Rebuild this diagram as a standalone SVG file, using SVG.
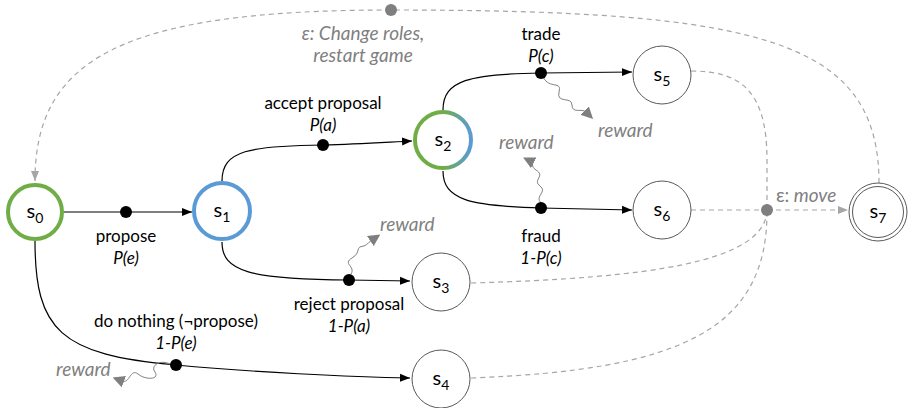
<svg xmlns="http://www.w3.org/2000/svg" width="913" height="408" viewBox="0 0 913 408">
  <defs>
    <linearGradient id="gradS2" x1="0" y1="0" x2="1" y2="0">
      <stop offset="0" stop-color="#70AD47"/>
      <stop offset="0.5" stop-color="#70AD47"/>
      <stop offset="1" stop-color="#5B9BD5"/>
    </linearGradient>
    <marker id="arrow" viewBox="0 0 10 10" refX="10" refY="5" markerWidth="10" markerHeight="10" markerUnits="userSpaceOnUse" orient="auto">
      <path d="M0,1 L10,5 L0,9 Z" fill="#000"/>
    </marker>
    <marker id="arrowGray" viewBox="0 0 10 10" refX="10" refY="5" markerWidth="10" markerHeight="10" markerUnits="userSpaceOnUse" orient="auto">
      <path d="M0,1 L10,5 L0,9 Z" fill="#A6A6A6"/>
    </marker>
    <marker id="arrowReward" viewBox="0 0 12 12" refX="2" refY="6" markerWidth="12" markerHeight="12" markerUnits="userSpaceOnUse" orient="auto">
      <path d="M0,0 L12,6 L0,12 Z" fill="#7F7F7F"/>
    </marker>
  </defs>
  <style>
    text { font-family: Lato, "Liberation Sans", sans-serif; fill: #000; }
    .lbl { font-size: 17px; text-anchor: middle; }
    .prob { font-size: 17px; text-anchor: middle; font-style: italic; }
    .gray { fill: #7F7F7F; font-style: italic; font-size: 19px; }
    .name { font-size: 20px; text-anchor: middle; }
    .sub { font-size: 14px; }
    .state { fill: #fff; stroke: #595959; stroke-width: 1; }
    .edge { fill: none; stroke: #000; stroke-width: 1.2; marker-end: url(#arrow); }
    .dash { fill: none; stroke: #A6A6A6; stroke-width: 1.2; stroke-dasharray: 5 4; }
    .wave { fill: none; stroke: #7F7F7F; stroke-width: 1; marker-end: url(#arrowReward); }
    .dot { fill: #000; }
    .gdot { fill: #7F7F7F; }
  </style>

  <!-- transitions -->
  <g id="connectors">
    <!-- epsilon transitions (dashed) -->
    <path class="dash" d="M879,183 C879,40 760,10 391,10 C120,10 35,60 35,181" marker-end="url(#arrowGray)"/>
    <path class="dash" d="M691,71 C740,71 767,90 767,160 L767,210"/>
    <path class="dash" d="M691,210 L767,210"/>
    <path class="dash" d="M471,283 C650,278 762,262 767,212"/>
    <path class="dash" d="M471,378 C680,370 767,330 767,212"/>
    <path class="dash" d="M767,210 L848,210" marker-end="url(#arrowGray)"/>

    <!-- action transitions -->
    <path class="edge" d="M64,212 L192,212"/>
    <path class="edge" d="M222,181 C222,150 250,146 323,145 C360,144 390,142 412,141"/>
    <path class="edge" d="M222,242 C222,272 250,279 349,280 L410,281"/>
    <path class="edge" d="M443,110 C443,80 470,74 541,73 L632,72"/>
    <path class="edge" d="M443,171 C443,200 470,206 541,208 L632,210"/>
    <path class="edge" d="M35,241 C35,330 60,355 176,365 C250,372 350,377 410,378"/>

    <!-- reward emissions -->
    <path class="wave" d="M543,77 C550,90 562,80 559,92 C556,104 572,96 572,105 C572,114 582,108 586,112"/>
    <path class="wave" d="M541,203 C534,196 548,192 540,186 C532,180 546,176 536,170 C530,166 534,163 532,162"/>
    <path class="wave" d="M351,274 C356,266 342,264 352,258 C362,252 354,247 364,246 C368,244 369,242 372,240"/>
    <path class="wave" d="M172,365 C160,358 150,366 155,372 C160,380 145,380 138,374 C130,368 130,384 122,381"/>

    <!-- choice points -->
    <circle class="dot" cx="126" cy="212" r="6"/>
    <circle class="dot" cx="323" cy="145" r="6"/>
    <circle class="dot" cx="349" cy="280" r="6"/>
    <circle class="dot" cx="541" cy="73" r="6"/>
    <circle class="dot" cx="541" cy="208" r="6"/>
    <circle class="dot" cx="176" cy="365" r="6"/>
    <circle class="gdot" cx="391" cy="10" r="6"/>
    <circle class="gdot" cx="767" cy="210" r="6"/>

    <!-- labels -->
    <text class="lbl" x="126" y="242">propose</text>
    <text class="prob" x="126" y="264">P(e)</text>
    <text class="lbl" x="323" y="109">accept proposal</text>
    <text class="prob" x="323" y="131">P(a)</text>
    <text class="lbl" x="349" y="310">reject proposal</text>
    <text class="prob" x="349" y="332">1-P(a)</text>
    <text class="lbl" x="176" y="327">do nothing (¬propose)</text>
    <text class="prob" x="176" y="349">1-P(e)</text>
    <text class="lbl" x="541" y="40">trade</text>
    <text class="prob" x="541" y="62">P(c)</text>
    <text class="lbl" x="541" y="242">fraud</text>
    <text class="prob" x="541" y="264">1-P(c)</text>
    <text class="gray" x="598" y="137">reward</text>
    <text class="gray" x="499" y="149">reward</text>
    <text class="gray" x="380" y="231">reward</text>
    <text class="gray" x="56" y="376">reward</text>
    <text class="gray" x="776" y="202"><tspan font-style="normal">ε:</tspan> move</text>
    <text class="gray" x="363" y="40" text-anchor="middle">ε: Change roles,</text>
    <text class="gray" x="363" y="62" text-anchor="middle">restart game</text>
  </g>

  <!-- states -->
  <g id="s0">
    <circle cx="35" cy="212" r="27" fill="#fff" stroke="#70AD47" stroke-width="4"/>
    <text class="name" x="35" y="218">s<tspan class="sub" dy="5">0</tspan></text>
  </g>
  <g id="s1">
    <circle cx="222" cy="211" r="28" fill="#fff" stroke="#5B9BD5" stroke-width="4"/>
    <text class="name" x="222" y="217">s<tspan class="sub" dy="5">1</tspan></text>
  </g>
  <g id="s2">
    <circle cx="443" cy="140" r="28" fill="#fff" stroke="url(#gradS2)" stroke-width="4"/>
    <text class="name" x="443" y="146">s<tspan class="sub" dy="5">2</tspan></text>
  </g>
  <g id="s3">
    <circle class="state" cx="441" cy="282" r="29"/>
    <text class="name" x="441" y="288">s<tspan class="sub" dy="5">3</tspan></text>
  </g>
  <g id="s4">
    <circle class="state" cx="441" cy="379" r="29"/>
    <text class="name" x="441" y="385">s<tspan class="sub" dy="5">4</tspan></text>
  </g>
  <g id="s5">
    <circle class="state" cx="662" cy="75" r="29"/>
    <text class="name" x="662" y="81">s<tspan class="sub" dy="5">5</tspan></text>
  </g>
  <g id="s6">
    <circle class="state" cx="662" cy="210" r="29"/>
    <text class="name" x="662" y="216">s<tspan class="sub" dy="5">6</tspan></text>
  </g>
  <g id="s7">
    <circle class="state" cx="878" cy="212" r="29"/>
    <circle class="state" cx="878" cy="212" r="25.5"/>
    <text class="name" x="878" y="218">s<tspan class="sub" dy="5">7</tspan></text>
  </g>
</svg>
